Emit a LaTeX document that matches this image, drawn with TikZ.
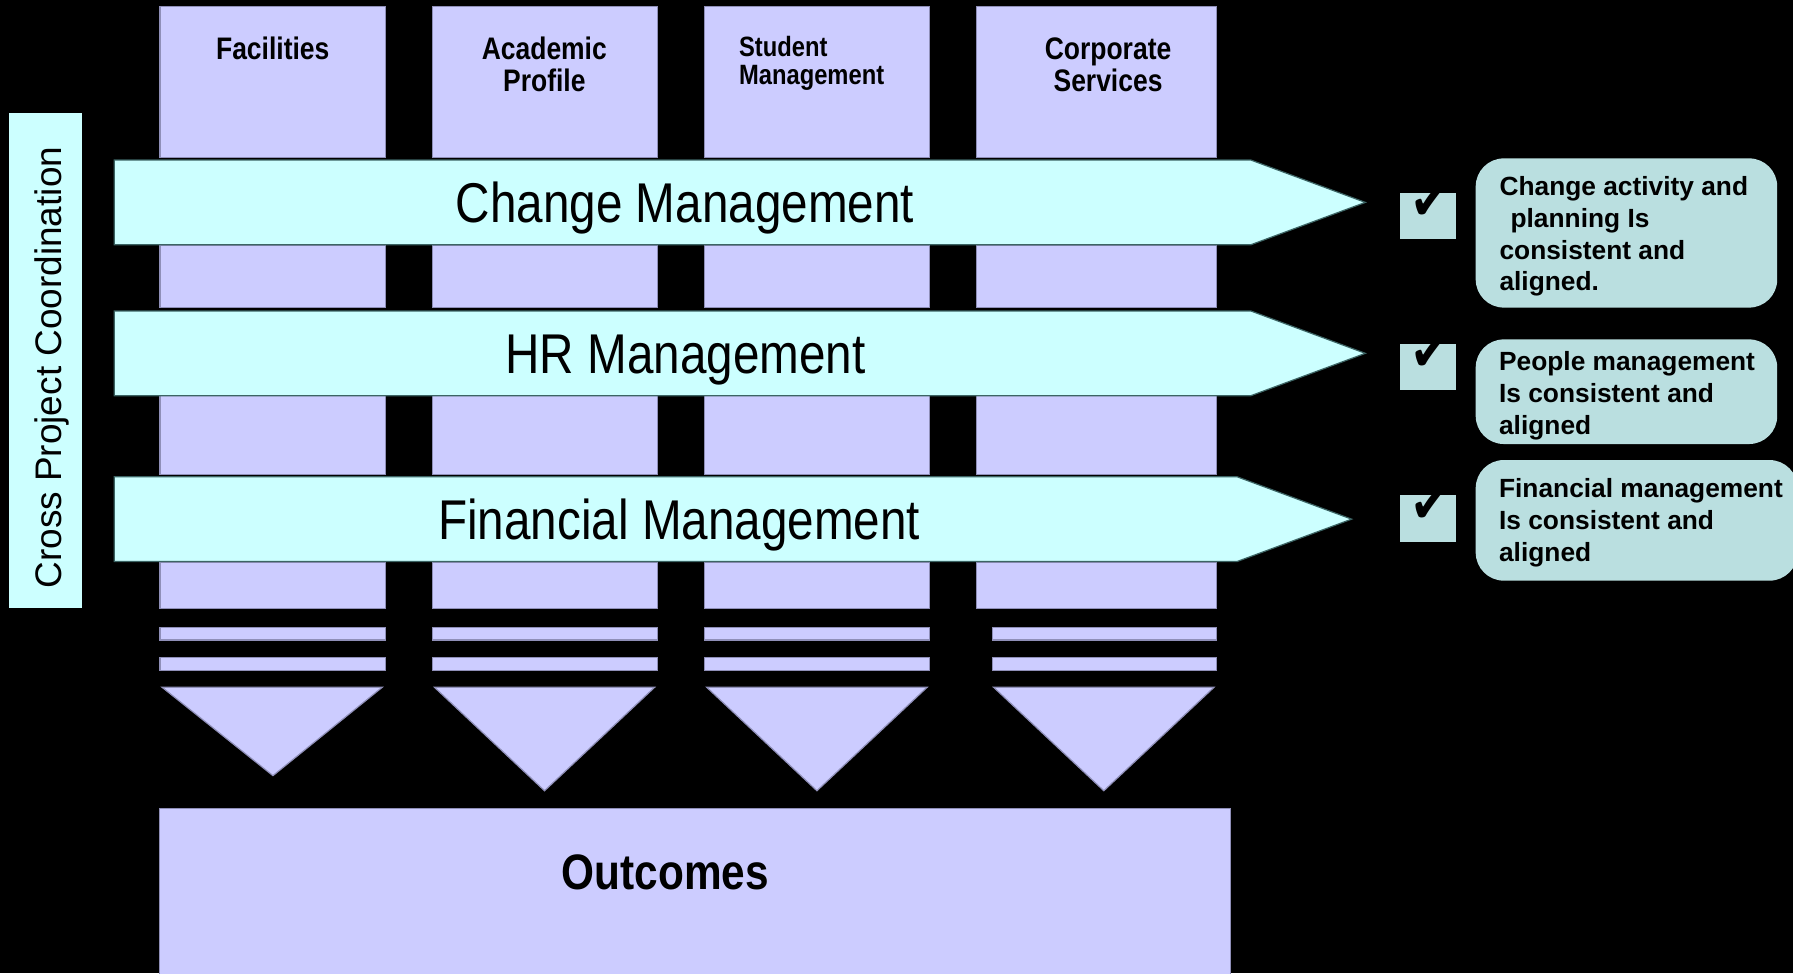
\documentclass[tikz,border=0pt]{standalone}
\usepackage{fontspec}
\setmainfont{Liberation Sans}
\newfontfamily\narrowfont[FakeStretch=0.85]{Liberation Sans}
\newfontfamily\symfont[FakeStretch=0.9]{DejaVu Sans}
\definecolor{lav}{HTML}{CCCCFF}
\definecolor{lavedge}{HTML}{8F8FB8}
\definecolor{lcyan}{HTML}{CCFFFF}
\definecolor{cyanedge}{HTML}{3C6464}
\definecolor{teal}{HTML}{BADFE0}
\tikzset{
  colpart/.style={fill=lav, draw=lavedge, line width=0.6pt},
  band/.style={fill=lcyan, draw=cyanedge, line width=0.6pt},
  tealbox/.style={fill=teal, draw=none},
  bandtext/.style={inner sep=0pt, anchor=base, font=\narrowfont\fontsize{27.9}{33}\selectfont},
  headtext/.style={inner sep=0pt, anchor=base, align=center, font=\narrowfont\bfseries\fontsize{15.5}{15.9}\selectfont},
  notetext/.style={inner sep=0pt, anchor=base west, align=left, font=\bfseries\fontsize{13.1}{15.8}\selectfont},
  checktext/.style={inner sep=0pt, anchor=base west, font=\symfont\bfseries\fontsize{26}{26}\selectfont}
}
\begin{document}
\begin{tikzpicture}[x=0.02cm, y=-0.02cm]
\fill[black] (0,0) rectangle (1568,851);
\useasboundingbox (0,0) rectangle (1568,851);

% columns
\foreach \xa/\xb/\xs in {140/337/140, 378/575/378, 616/813/616, 854/1064/867.6}{
  \path[colpart] (\xa,6) rectangle (\xb,138);
  \path[colpart] (\xa,215) rectangle (\xb,269);
  \path[colpart] (\xa,346) rectangle (\xb,415);
  \path[colpart] (\xa,492) rectangle (\xb,532);
  \path[colpart] (\xs,548.6) rectangle (\xb,559.7);
  \path[colpart] (\xs,574.8) rectangle (\xb,586.2);
}
% triangles
\path[colpart] (141.7,601) -- (334.3,601) -- (238.7,678.3) -- cycle;
\path[colpart] (379.9,601) -- (572.5,601) -- (476.2,691.5) -- cycle;
\path[colpart] (618,601) -- (810.8,601) -- (714.4,691.5) -- cycle;
\path[colpart] (868.9,601) -- (1061.7,601) -- (965.3,691.5) -- cycle;

% outcomes
\path[colpart] (139.7,707) rectangle (1076.3,853);
\node[inner sep=0pt, anchor=base, font=\narrowfont\bfseries\fontsize{24.8}{28}\selectfont] (outcomes) at (582,778) {Outcomes};

% column headers (base anchor = baseline of last line)
\node[headtext] (fac) at (238.5,51.7) {Facilities};
\node[headtext] (acad) at (476,79.7) {Academic\\Profile};
\node[inner sep=0pt, anchor=base west, align=left, font=\narrowfont\bfseries\fontsize{13.9}{13.7}\selectfont] (stud) at (646,73.7) {Student\\Management};
\node[headtext] (corp) at (969,79.7) {Corporate\\Services};

% bands
\path[band] (100,140) -- (1094,140) -- (1194,177) -- (1094,214) -- (100,214) -- cycle;
\path[band] (100,272) -- (1094,272) -- (1194,309) -- (1094,346) -- (100,346) -- cycle;
\path[band] (100,417) -- (1082,417) -- (1182,454) -- (1082,491) -- (100,491) -- cycle;
\node[bandtext] (chg) at (599,194.5) {Change Management};
\node[bandtext] (hr) at (599.5,327) {HR Management};
\node[bandtext] (fin) at (594,472) {Financial Management};

% cross project coordination
\path[fill=lcyan] (8,99) rectangle (72,532);
\node[inner sep=0pt, anchor=base, rotate=90, font=\fontsize{18.4}{20}\selectfont] (cross) at (54,321.5) {Cross Project Coordination};

% check boxes
\path[tealbox] (1224.3,168.5) rectangle (1273.3,209.3);
\path[tealbox] (1224.3,300.5) rectangle (1273.3,341.3);
\path[tealbox] (1224.3,432.9) rectangle (1273.3,473.7);
\node[checktext] (ck1) at (1233,192) {✔};
\node[checktext] (ck2) at (1233,324) {✔};
\node[checktext] (ck3) at (1233,456.5) {✔};

% note boxes
\path[tealbox, rounded corners=14] (1290.5,138.5) rectangle (1554.2,269);
\path[tealbox, rounded corners=14] (1290.5,296.8) rectangle (1554.2,388.3);
\path[tealbox, rounded corners=14] (1290.5,402.3) rectangle (1572,507.8);
\node[notetext] (n1) at (1311,254.4) {Change activity and\\\hspace{5.5pt}planning Is\\consistent and\\aligned.};
\node[notetext] (n2) at (1310.6,379.6) {People management\\Is consistent and\\aligned};
\node[notetext] (n3) at (1310.6,490.6) {Financial management\\Is consistent and\\aligned};
\end{tikzpicture}
\end{document}
